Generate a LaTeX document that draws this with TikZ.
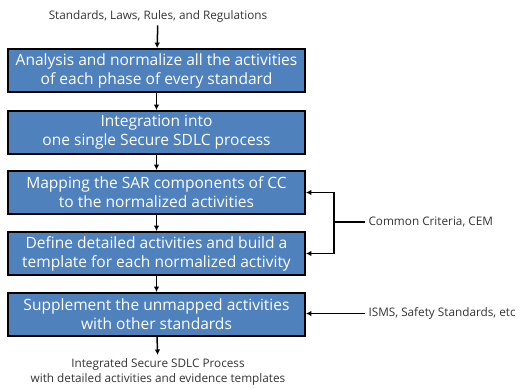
\documentclass[tikz,border=0pt]{standalone}
\usepackage{fontspec}
\setmainfont{Open Sans}
\usetikzlibrary{positioning,arrows.meta}
\definecolor{stageblue}{RGB}{79,129,189}

\begin{document}
\begin{tikzpicture}[x=1bp,y=-1bp,
    stage/.style={draw=black, line width=1.8bp, fill=stageblue, text=white,
        minimum width=297bp, minimum height=43bp, inner sep=0pt, align=center,
        font=\fontsize{15.6}{19}\selectfont},
    note/.style={text=black!80, align=center, font=\fontsize{11.8}{15}\selectfont},
    flow/.style={-{Latex[length=5.5bp,width=5.5bp]}, line width=1.5bp}]
    \useasboundingbox (0,0) rectangle (528,388);

    % Input
    \node[note] (src) at (158,16) {Standards, Laws, Rules, and Regulations};

    % Process stages
    \node[stage] (ana) at (156.5,70.5) {Analysis and normalize all the activities\\of each phase of every standard};
    \node[stage] (integ) at (156.5,132.5) {Integration into\\one single Secure SDLC process};
    \node[stage] (map) at (156.5,192.5) {Mapping the SAR components of CC\\to the normalized activities};
    \node[stage] (tmpl) at (156.5,253.5) {Define detailed activities and build a\\template for each normalized activity};
    \node[stage] (supp) at (156.5,314.5) {Supplement the unmapped activities\\with other standards};

    % Output
    \node[note, anchor=north] (out) at (158,355) {Integrated Secure SDLC Process\\with detailed activities and evidence templates};

    % Side inputs
    \node[note, anchor=west] (cc) at (365,222) {Common Criteria, CEM};
    \node[note, anchor=west] (isms) at (365,313.5) {ISMS, Safety Standards, etc};
    \coordinate (ccjoin) at (334,222);

    % Arrows
    \draw[flow] (src) -- (ana);
    \draw[flow] (ana) -- (integ);
    \draw[flow] (integ) -- (map);
    \draw[flow] (map) -- (tmpl);
    \draw[flow] (tmpl) -- (supp);
    \draw[flow] (supp) -- (out);
    \draw[line width=1.5bp] (cc.west) -- (ccjoin);
    \draw[flow] (ccjoin) |- (map.east);
    \draw[flow] (ccjoin) |- (tmpl.east);
    \draw[flow] (isms.west) -- (supp.east |- isms.west);

\end{tikzpicture}
\end{document}
